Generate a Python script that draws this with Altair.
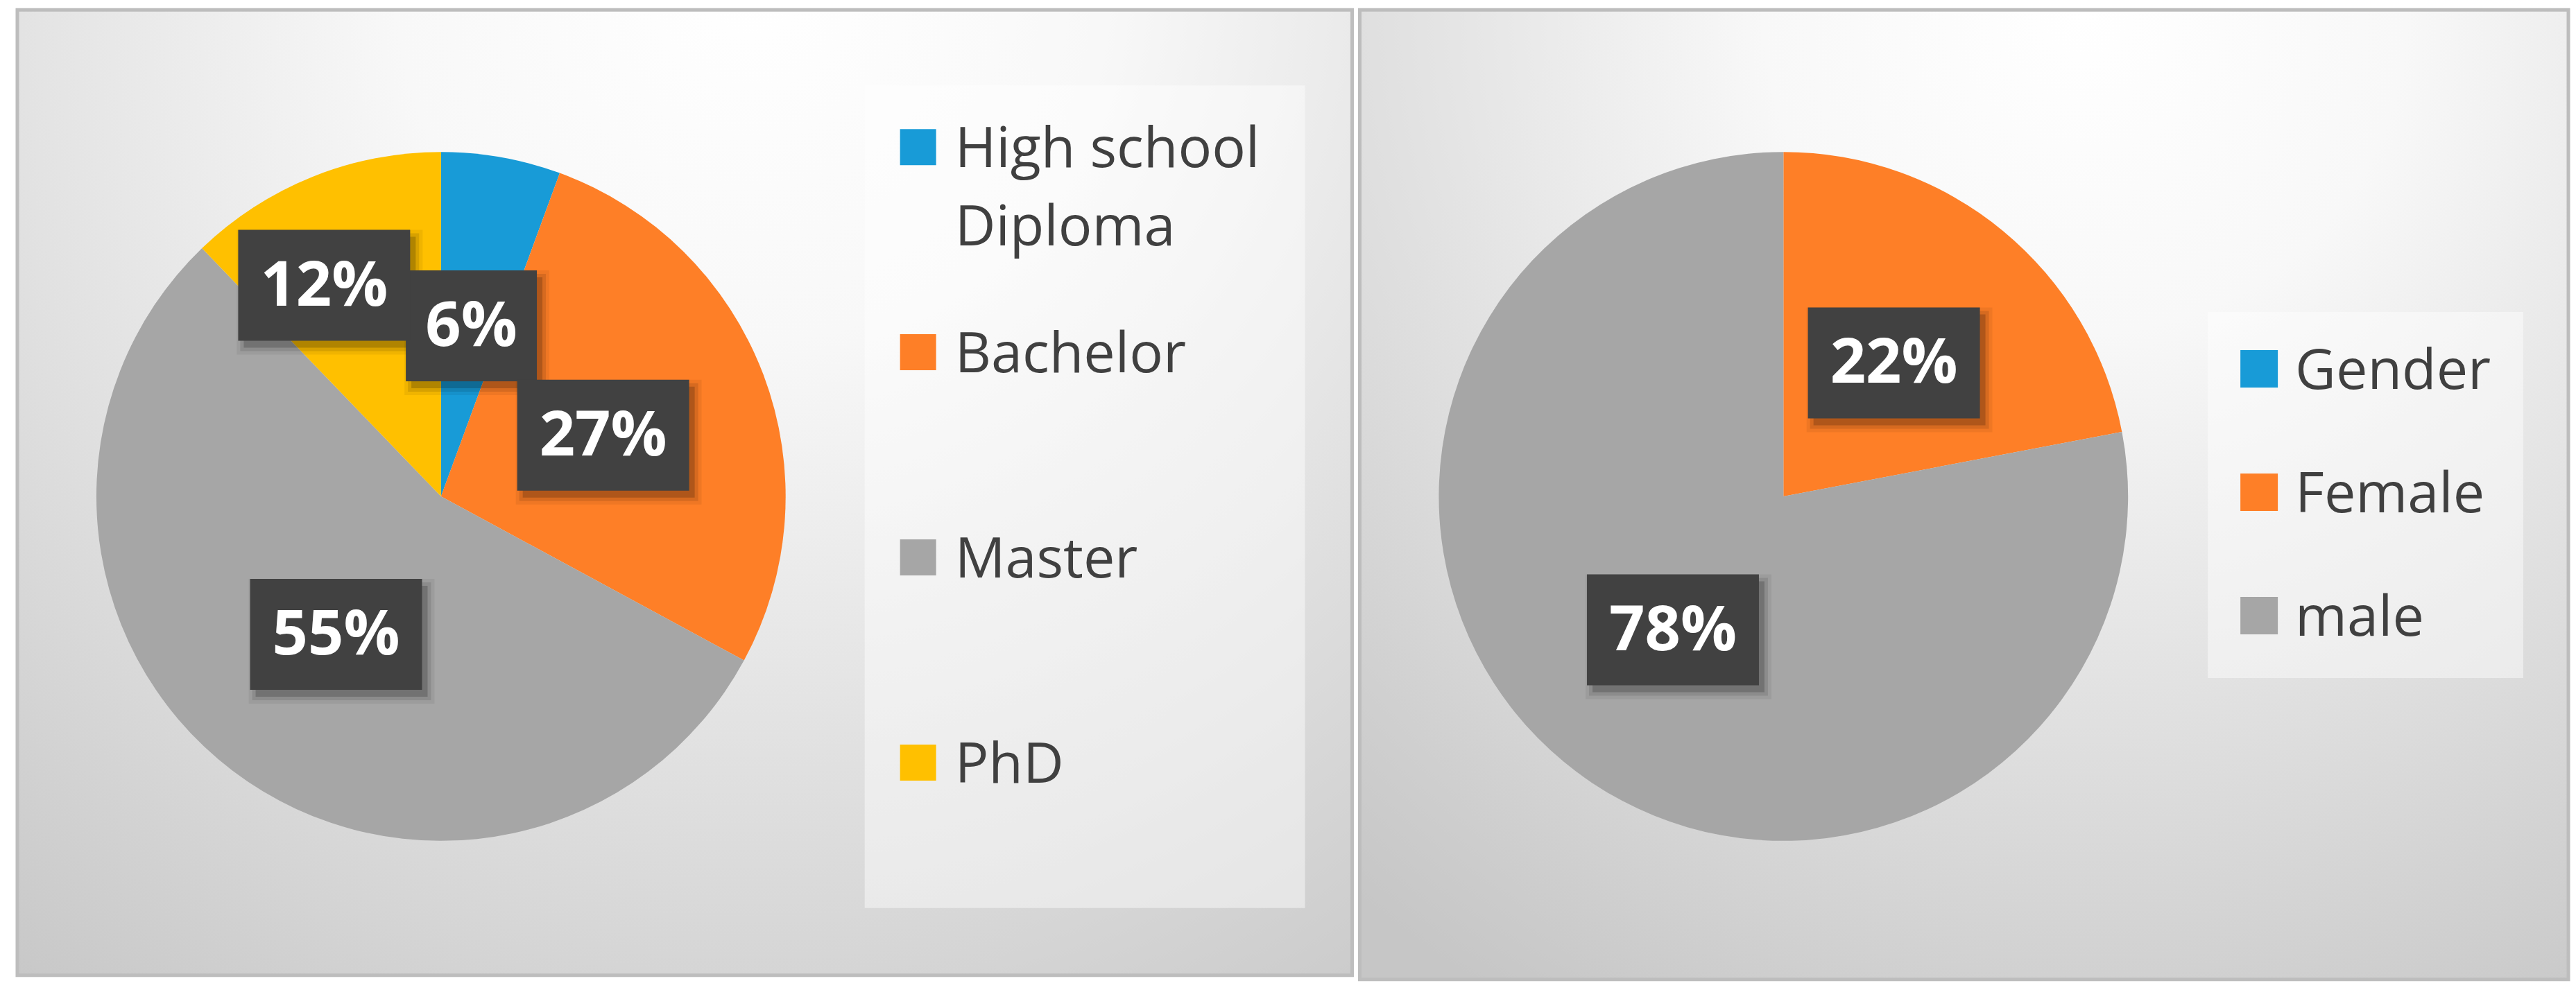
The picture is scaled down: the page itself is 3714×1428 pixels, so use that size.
import math
import textwrap

import altair as alt
import pandas as pd

# ---------------- data ----------------
edu_categories = ["High school Diploma", "Bachelor", "Master", "PhD"]
edu_values = [5.6, 27.3, 54.9, 12.2]
edu_colors = ["#189bd7", "#fe7f27", "#a6a6a6", "#ffc000"]

gender_categories = ["Gender", "Female", "male"]
gender_values = [0, 22, 78]
gender_colors = ["#189bd7", "#fe7f27", "#a6a6a6"]

# ---------------- layout / style ----------------
W1, H1 = 1925, 1393
W2, H2 = 1743, 1399
CX, CY, R = 611, 702, 497
LABEL_R = 250
LABEL_NUDGE = {"PhD": (348, -7.0)}  # Excel pushed this label outward
BOX_H = 160
FONT = "Open Sans"
TEXT_COLOR = "#404040"


def pie_frame(cats, vals):
    total = float(sum(vals))
    rows, cum = [], 0.0
    for i, (c, v) in enumerate(zip(cats, vals)):
        frac = v / total
        mid = (cum + frac / 2) * 360
        rl, dth = LABEL_NUDGE.get(c, (LABEL_R, 0.0))
        a = math.radians(mid + dth)
        lx = CX + rl * math.sin(a)
        ly = CY - rl * math.cos(a)
        text = f"{round(frac * 100)}%"
        bw = 66 + 59 * (len(text) - 1) + 64
        rows.append(dict(cat=c, value=v, idx=i, text=text, show=v > 0,
                         lx=lx, ly=ly,
                         bx1=lx - bw / 2, bx2=lx + bw / 2,
                         by1=ly - BOX_H / 2, by2=ly + BOX_H / 2))
        cum += frac
    return pd.DataFrame(rows)


def legend_frame(cats, y0, step, sq_x, sq):
    rows = []
    for i, c in enumerate(cats):
        yc = y0 + i * step
        rows.append(dict(cat=c, idx=i, label="\n".join(textwrap.wrap(c, 11)),
                         sx1=sq_x, sx2=sq_x + sq, sy1=yc - sq / 2, sy2=yc + sq / 2,
                         tx=sq_x + 79, ty=yc + 29))
    return pd.DataFrame(rows)


def panel(cats, vals, colors, W, H, legend_box, legend_rows, grad_center):
    one = pd.DataFrame({"k": [0]})
    xs = alt.Scale(domain=[0, W], nice=False, zero=False)
    ys = alt.Scale(domain=[0, H], nice=False, zero=False, reverse=True)
    cscale = alt.Scale(domain=cats, range=colors)
    pdf = pie_frame(cats, vals)
    ldf = legend_frame(cats, *legend_rows)

    gx, gy = grad_center
    grad = alt.RadialGradient(
        gradient="radial", x1=gx, y1=gy, r1=0, x2=gx, y2=gy, r2=0.95,
        stops=[alt.GradientStop(offset=0, color="#ffffff"),
               alt.GradientStop(offset=0.28, color="#f8f8f8"),
               alt.GradientStop(offset=0.62, color="#e0e0e0"),
               alt.GradientStop(offset=1, color="#c6c6c6")])

    bg = alt.Chart(one).mark_rect(color=grad, stroke="#bdbdbd", strokeWidth=5).encode(
        x=alt.value(0), x2=alt.value(W), y=alt.value(0), y2=alt.value(H))

    pie = alt.Chart(pdf).mark_arc(radius=R, x=CX, y=CY).encode(
        theta=alt.Theta("value:Q", stack=True),
        color=alt.Color("cat:N", scale=cscale, legend=None),
        order=alt.Order("idx:Q"),
    )

    lab = alt.Chart(pdf).transform_filter("datum.show")
    box_sh = [
        lab.mark_rect(color="#000000", opacity=op,
                      xOffset=8 - e, x2Offset=8 + e, yOffset=10 - e, y2Offset=10 + e).encode(
            x=alt.X("bx1:Q", scale=xs, axis=None), x2="bx2:Q",
            y=alt.Y("by1:Q", scale=ys, axis=None), y2="by2:Q")
        for e, op in ((10, 0.06), (5, 0.1), (0, 0.18))
    ]
    box = lab.mark_rect(color="#414141").encode(
        x=alt.X("bx1:Q", scale=xs, axis=None), x2="bx2:Q",
        y=alt.Y("by1:Q", scale=ys, axis=None), y2="by2:Q")
    txt = lab.mark_text(font=FONT, fontWeight="bold", fontSize=90, color="#ffffff",
                        align="center", baseline="middle", dy=2).encode(
        x=alt.X("lx:Q", scale=xs, axis=None),
        y=alt.Y("ly:Q", scale=ys, axis=None),
        text="text:N")

    bx1, by1, bx2, by2 = legend_box
    leg_bg = alt.Chart(one).mark_rect(color="#ffffff", opacity=0.45).encode(
        x=alt.value(bx1), x2=alt.value(bx2), y=alt.value(by1), y2=alt.value(by2))
    leg_sq = alt.Chart(ldf).mark_rect().encode(
        x=alt.X("sx1:Q", scale=xs, axis=None), x2="sx2:Q",
        y=alt.Y("sy1:Q", scale=ys, axis=None), y2="sy2:Q",
        color=alt.Color("cat:N", scale=cscale, legend=None))
    leg_tx = alt.Chart(ldf).mark_text(font=FONT, fontSize=81, color=TEXT_COLOR,
                                      align="left", baseline="alphabetic",
                                      lineBreak="\n", lineHeight=113).encode(
        x=alt.X("tx:Q", scale=xs, axis=None),
        y=alt.Y("ty:Q", scale=ys, axis=None),
        text="label:N")

    return alt.layer(bg, pie, *box_sh, box, txt, leg_bg, leg_sq, leg_tx).properties(
        width=W, height=H)


left = panel(edu_categories, edu_values, edu_colors, W1, H1,
             (1222, 109, 1857, 1296), (198, 296, 1273, 52), (0.55, 0.12))
right = panel(gender_categories, gender_values, gender_colors, W2, H2,
              (1223, 436, 1678, 964), (518, 178, 1270, 54), (0.6, 0.1))

chart = alt.hconcat(left, right, spacing=5).resolve_scale(
    x="independent", y="independent", color="independent", theta="independent"
).properties(
    padding={"left": 14, "top": 3, "right": 0, "bottom": 0},
    background="#ffffff",
).configure_view(strokeWidth=0)

chart.save("out.html", embed_options={"renderer": "svg", "actions": False})
